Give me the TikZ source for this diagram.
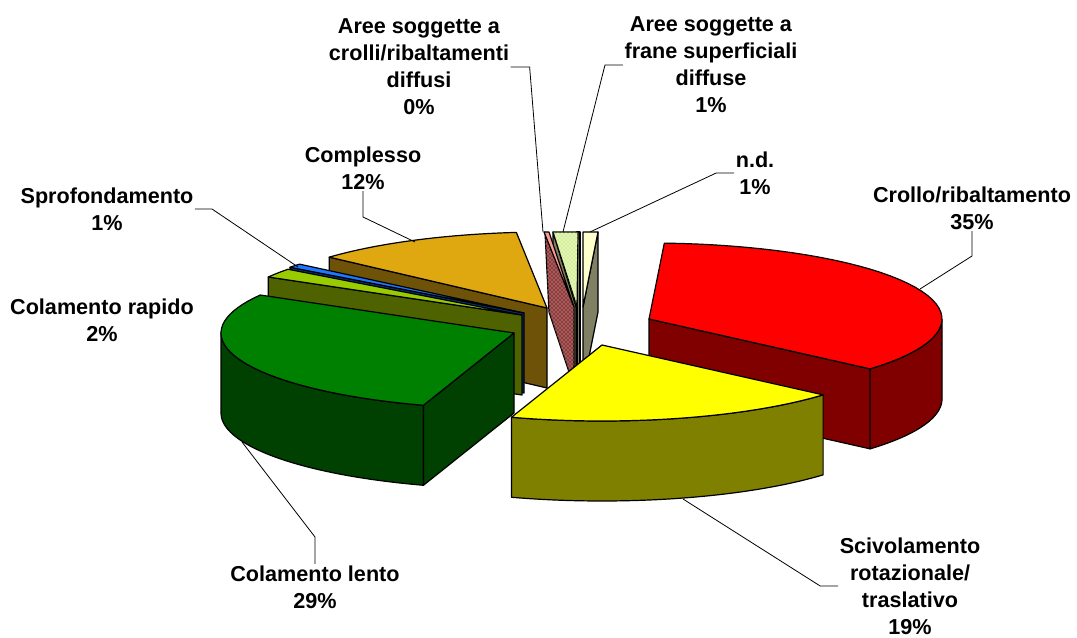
\documentclass[tikz,border=0pt]{standalone}
\usepackage{fontspec}
\setmainfont{Liberation Sans}
\usetikzlibrary{patterns}

\definecolor{crolloTop}{RGB}{255,0,0}
\definecolor{crolloSide}{RGB}{128,0,0}
\definecolor{scivTop}{RGB}{255,255,0}
\definecolor{scivSide}{RGB}{128,128,0}
\definecolor{lentoTop}{RGB}{0,128,0}
\definecolor{lentoSide}{RGB}{0,64,0}
\definecolor{rapidoTop}{RGB}{153,204,0}
\definecolor{rapidoSide}{RGB}{78,98,0}
\definecolor{sprofTop}{RGB}{30,120,255}
\definecolor{sprofSide}{RGB}{0,50,130}
\definecolor{complTop}{RGB}{224,168,16}
\definecolor{complSide}{RGB}{110,82,8}
\definecolor{crolliTop}{RGB}{255,153,153}
\definecolor{crolliSide}{RGB}{140,62,62}
\definecolor{franeTop}{RGB}{226,246,186}
\definecolor{franeSide}{RGB}{128,128,96}
\definecolor{ndTop}{RGB}{255,255,204}
\definecolor{ndSide}{RGB}{128,128,100}

\newcommand{\pierx}{293}
\newcommand{\piery}{76}
\newcommand{\pieh}{80}

% top of a slice: apex x, apex y, from, to, colour
\newcommand{\slicetop}[5]{%
  \filldraw[slice, fill=#5] (#1,#2) -- plot[domain=#3:#4]
    ({#1+\pierx*cos(\x)},{#2+\piery*sin(\x)}) -- cycle;}
% outer wall of a slice
\newcommand{\slicerim}[5]{%
  \filldraw[slice, fill=#5] plot[domain=#3:#4]
    ({#1+\pierx*cos(\x)},{#2+\piery*sin(\x)})
    -- plot[domain=#4:#3] ({#1+\pierx*cos(\x)},{#2+\pieh+\piery*sin(\x)}) -- cycle;}
% cut wall at one angle
\newcommand{\slicecut}[4]{%
  \filldraw[slice, fill=#4] (#1,#2) -- ({#1+\pierx*cos(#3)},{#2+\piery*sin(#3)})
    -- ++(0,\pieh) -- (#1,#2+\pieh) -- cycle;}

\begin{document}
\begin{tikzpicture}[
    x=0.75pt, y=-0.75pt, samples=40,
    slice/.style={draw=black, line width=0.9pt, line join=round},
    leader/.style={line width=0.6pt, black},
    lab/.style={font=\fontsize{16.2}{20.25}\selectfont\bfseries, align=center, inner sep=1pt},
  ]
  \useasboundingbox[fill=white] (0,0) rectangle (1077,638);

  % back slices
  \slicecut{547}{308}{222}{complSide}
  \slicetop{547}{308}{222}{264}{complTop}

  \filldraw[slice, fill=franeSide] (553,232) -- (576,307) -- (576,387) -- (553,312) -- cycle;
  \filldraw[slice, fill=crolliSide, postaction={pattern=crosshatch dots, pattern color=crolliTop!70}]
    (545,232) -- (574,307) -- (574,387) -- (549,312) -- cycle;
  \filldraw[slice, fill=crolliTop] (544,232) -- (549,232) -- (574,307) -- cycle;
  \filldraw[slice, fill=franeSide] (577,232) rectangle (580,372);
  \filldraw[slice, fill=franeTop, postaction={pattern=crosshatch dots, pattern color=rapidoTop!80}]
    (553,232) -- (578,232) -- (577,307) -- cycle;

  \filldraw[slice, fill=ndSide] (598,232) -- (598,312) -- (583,387) -- (583,307) -- cycle;
  \filldraw[slice, fill=ndTop] (583,232) -- (598,232) -- (583,307) -- cycle;

  \slicecut{524}{313}{217}{sprofSide}
  \slicetop{524}{313}{217}{220}{sprofTop}

  \slicecut{522}{315}{210}{rapidoSide}
  \slicetop{522}{315}{210}{217}{rapidoTop}

  % front slices
  \slicerim{514}{333}{108}{180}{lentoSide}
  \slicecut{514}{333}{108}{lentoSide}
  \slicetop{514}{333}{108}{210}{lentoTop}

  \slicecut{649}{319}{41}{crolloSide}
  \slicerim{649}{319}{0}{41}{crolloSide}
  \slicetop{649}{319}{-87}{41}{crolloTop}

  \slicerim{602}{345}{41}{108}{scivSide}
  \slicetop{602}{345}{41}{108}{scivTop}

  % labels
  \node[lab] (crolloLab) at (972,208) {Crollo/ribaltamento\\35\%};
  \node[lab] (ndLab) at (755,173) {n.d.\\1\%};
  \node[lab] (franeLab) at (711,65) {Aree soggette a\\frane superficiali\\diffuse\\1\%};
  \node[lab] (crolliLab) at (419,67) {Aree soggette a\\crolli/ribaltamenti\\diffusi\\0\%};
  \node[lab] (complLab) at (363,168) {Complesso\\12\%};
  \node[lab] (sprofLab) at (107,209) {Sprofondamento\\1\%};
  \node[lab] (rapidoLab) at (102,320) {Colamento rapido\\2\%};
  \node[lab] (lentoLab) at (315,587) {Colamento lento\\29\%};
  \node[lab] (scivLab) at (910,586) {Scivolamento\\rotazionale/\\traslativo\\19\%};

  % leader ends
  \coordinate (crolloTip) at (920,289);
  \coordinate (ndTip) at (590,232);
  \coordinate (franeTip) at (563,232);
  \coordinate (crolliTip) at (543,232);
  \coordinate (complTip) at (415,242);
  \coordinate (sprofTip) at (298,267);
  \coordinate (lentoTip) at (242,442);
  \coordinate (scivTip) at (683,499);

  \draw[leader] (crolloLab.south) -- (972,256) -- (crolloTip);
  \draw[leader] (ndLab.west) -- ++(-18,0) -- (ndTip);
  \draw[leader] (franeLab.west) -- ++(-18,0) -- (franeTip);
  \draw[leader] (crolliLab.east) -- ++(19,0) -- (crolliTip);
  \draw[leader] (complLab.south) -- (363,217) -- (complTip);
  \draw[leader] (sprofLab.east) -- ++(17,0) -- (sprofTip);
  \draw[leader] (lentoLab.north) -- (315,537) -- (lentoTip);
  \draw[leader] (scivLab.west) -- ++(-18,0) -- (scivTip);
\end{tikzpicture}
\end{document}
